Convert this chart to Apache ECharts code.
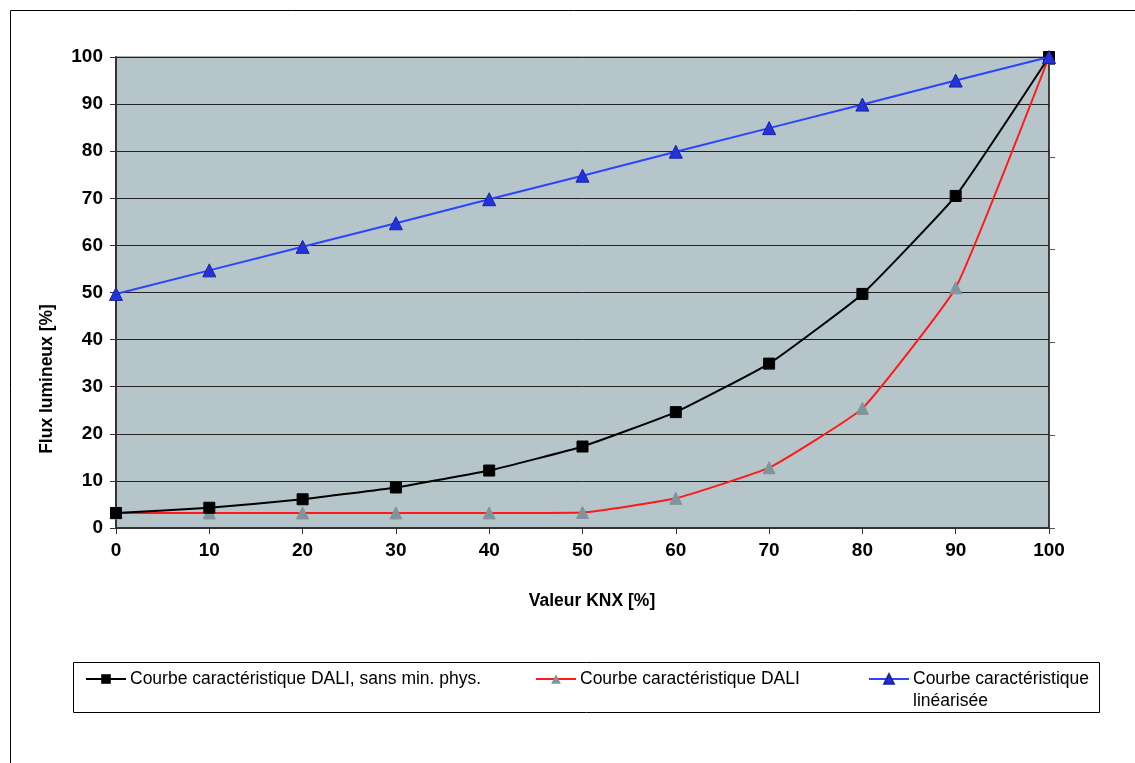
<!DOCTYPE html>
<html>
<head>
<meta charset="utf-8">
<script src="https://cdn.jsdelivr.net/npm/echarts@6/dist/echarts.min.js"></script>
<style>html,body{margin:0;padding:0;background:#fff}#c{width:1135px;height:763px}</style>
</head>
<body>
<div id="c"></div>
<script>
const xValues = [0, 10, 20, 30, 40, 50, 60, 70, 80, 90, 100];
const dali_sans_min = [3.2, 4.3, 6.1, 8.6, 12.2, 17.3, 24.6, 34.9, 49.7, 70.5, 100];
const dali = [3.2, 3.2, 3.2, 3.2, 3.2, 3.3, 6.3, 12.8, 25.4, 51.0, 100];
const linearisee = [49.7, 54.7, 59.7, 64.7, 69.8, 74.8, 79.9, 84.9, 89.9, 95.0, 100];
const seriesNames = ['Courbe caractéristique DALI, sans min. phys.', 'Courbe caractéristique DALI', 'Courbe caractéristique linéarisée'];
const xTitle = 'Valeur KNX [%]';
const yTitle = 'Flux lumineux [%]';

const pairs = arr => arr.map((v, i) => [xValues[i], v]);
const font = 'Liberation Sans, Arial, sans-serif';

const chart = echarts.init(document.getElementById('c'), null, {renderer: 'canvas'});
chart.setOption({
  animation: false,
  backgroundColor: '#ffffff',
  grid: {left: 116, right: 86, top: 57, bottom: 235, show: true, backgroundColor: '#b5c5c9', borderColor: '#5a5a5a', borderWidth: 1},
  xAxis: {
    type: 'value', min: 0, max: 100, interval: 10,
    axisLine: {onZero: false, lineStyle: {color: '#333', width: 2}},
    axisTick: {show: true, inside: false, length: 6, lineStyle: {color: '#333'}},
    axisLabel: {color: '#000', fontFamily: font, fontWeight: 'bold', fontSize: 19, margin: 13},
    splitLine: {show: false}
  },
  yAxis: [{
    type: 'value', min: 0, max: 100, interval: 10,
    axisLine: {show: true, lineStyle: {color: '#333', width: 2}},
    axisTick: {show: true, inside: false, length: 6, lineStyle: {color: '#333'}},
    axisLabel: {color: '#000', fontFamily: font, fontWeight: 'bold', fontSize: 19, margin: 13},
    splitLine: {show: true, lineStyle: {color: '#222', width: 1}}
  }, {
    type: 'value', min: 0, max: 101.5, interval: 20, position: 'right',
    axisLine: {show: true, lineStyle: {color: '#222', width: 1.5}},
    axisTick: {show: true, inside: false, length: 6, lineStyle: {color: '#555'}},
    axisLabel: {show: false},
    splitLine: {show: false}
  }],
  legend: [{
    left: 85, top: 670, padding: 0, itemWidth: 40, itemHeight: 12,
    data: [seriesNames[0]],
    textStyle: {fontFamily: font, fontSize: 17.5, color: '#000', padding: [0, 0, 0, -1]}
  }, {
    left: 535, top: 670, padding: 0, itemWidth: 40, itemHeight: 12,
    data: [seriesNames[1]],
    textStyle: {fontFamily: font, fontSize: 17.5, color: '#000', padding: [0, 0, 0, -1]}
  }, {
    left: 868, top: 670, padding: 0, itemWidth: 40, itemHeight: 12,
    data: [seriesNames[2]],
    formatter: () => 'Courbe caractéristique',
    textStyle: {fontFamily: font, fontSize: 17.5, color: '#000', padding: [0, 0, 0, -1]}
  }],
  graphic: [
    {type: 'rect', shape: {x: 10.5, y: 10.5, width: 1140, height: 800}, style: {fill: 'none', stroke: '#000', lineWidth: 1}, z: -10, silent: true},
    {type: 'rect', shape: {x: 73.5, y: 662.5, width: 1026, height: 50}, style: {fill: '#fff', stroke: '#000', lineWidth: 1}, z: -5, silent: true},
    {type: 'text', left: 913, top: 692, style: {text: 'linéarisée', fontFamily: font, fontSize: 17.5, fill: '#000'}},
    {type: 'text', x: 47, y: 379, rotation: Math.PI / 2, style: {text: yTitle, fontFamily: font, fontSize: 17.5, fontWeight: 'bold', fill: '#000', align: 'center', verticalAlign: 'middle'}},
    {type: 'text', x: 592, y: 601, style: {text: xTitle, fontFamily: font, fontSize: 17.5, fontWeight: 'bold', fill: '#000', align: 'center', verticalAlign: 'middle'}}
  ],
  series: [{
    name: seriesNames[0], type: 'line', data: pairs(dali_sans_min), smooth: 0.12,
    symbol: 'rect', symbolSize: 11,
    lineStyle: {color: '#000', width: 2},
    itemStyle: {color: '#000', borderColor: '#000'}, z: 3
  }, {
    name: seriesNames[1], type: 'line', data: pairs(dali), smooth: 0.12,
    symbol: 'triangle', symbolSize: 12,
    lineStyle: {color: '#ff1a1a', width: 2},
    itemStyle: {color: '#7f959b', borderColor: '#7f959b'}, z: 2
  }, {
    name: seriesNames[2], type: 'line', data: pairs(linearisee),
    symbol: 'triangle', symbolSize: 13,
    lineStyle: {color: '#2a44ff', width: 2},
    itemStyle: {color: '#2233dd', borderColor: '#1a2599', borderWidth: 1}, z: 4
  }]
});
</script>
</body>
</html>
